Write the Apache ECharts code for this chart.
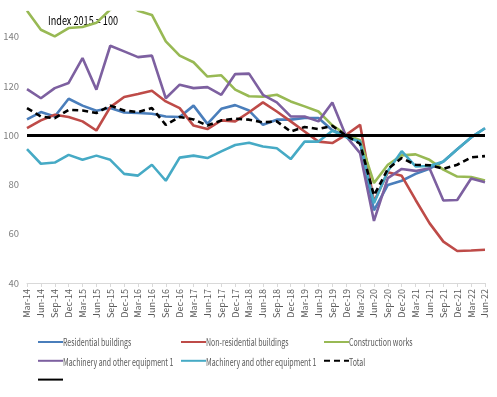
<!DOCTYPE html>
<html>
<head>
<meta charset="utf-8">
<script src="https://cdn.jsdelivr.net/npm/echarts@6/dist/echarts.min.js"></script>
<style>
html, body { margin: 0; padding: 0; background: #fff; }
#chart { width: 497px; height: 397px; }
</style>
</head>
<body>
<div id="chart"></div>
<script>
// quarters Mar-14 .. Jun-22
var quarters = ['Mar-14', 'Jun-14', 'Sep-14', 'Dec-14', 'Mar-15', 'Jun-15', 'Sep-15', 'Dec-15',
    'Mar-16', 'Jun-16', 'Sep-16', 'Dec-16', 'Mar-17', 'Jun-17', 'Sep-17', 'Dec-17',
    'Mar-18', 'Jun-18', 'Sep-18', 'Dec-18', 'Mar-19', 'Jun-19', 'Sep-19', 'Dec-19',
    'Mar-20', 'Jun-20', 'Sep-20', 'Dec-20', 'Mar-21', 'Jun-21', 'Sep-21', 'Dec-21',
    'Mar-22', 'Jun-22'];

var residential = [106.4, 109.4, 107.6, 114.8, 112.0, 109.9, 111.0, 109.2, 109.0, 108.7, 107.6, 107.4,
    112.0, 104.6, 110.7, 112.2, 110.0, 104.2, 106.3, 106.3, 107.0, 107.0, 102.0, 99.8,
    97.0, 69.5, 79.8, 81.5, 84.3, 86.4, 89.3, 94.3, 99.1, 102.8];
var nonResidential = [102.9, 106.0, 108.3, 107.4, 105.6, 101.9, 111.4, 115.5, 116.7, 118.0, 113.7, 111.0,
    103.9, 102.5, 106.0, 105.6, 109.3, 113.3, 109.6, 105.6, 101.5, 97.4, 96.8, 100.2,
    104.2, 73.0, 85.0, 83.5, 73.7, 64.3, 56.8, 53.0, 53.2, 53.5];
var construction = [150.5, 142.8, 140.1, 143.5, 143.9, 145.6, 151.0, 154.0, 150.5, 148.8, 138.1, 132.3,
    129.6, 123.8, 124.3, 118.5, 115.8, 115.6, 116.4, 113.7, 111.7, 109.6, 104.0, 100.2,
    98.0, 80.6, 88.0, 91.8, 92.2, 90.0, 86.0, 83.2, 83.0, 81.6];
var machinery1 = [118.7, 115.0, 119.1, 121.2, 131.3, 118.5, 136.3, 134.0, 131.7, 132.3, 115.0, 120.5,
    119.1, 119.5, 116.4, 124.8, 125.0, 116.4, 113.3, 107.6, 107.6, 105.6, 113.3, 99.5,
    92.7, 65.2, 82.6, 86.3, 85.5, 86.6, 73.5, 73.7, 82.4, 80.9];
var machinery2 = [94.3, 88.4, 88.9, 92.0, 90.0, 91.7, 90.0, 84.3, 83.6, 88.0, 81.5, 90.9,
    91.7, 90.7, 93.4, 96.0, 96.9, 95.4, 94.7, 90.3, 97.4, 97.4, 101.8, 99.2,
    97.4, 72.4, 85.5, 93.5, 87.3, 87.5, 89.3, 94.3, 99.1, 102.8];
var total = [111.0, 107.6, 106.9, 110.3, 110.0, 109.0, 112.0, 110.0, 109.4, 111.0, 104.2, 107.4,
    106.4, 103.9, 106.0, 106.7, 106.3, 105.2, 105.6, 101.5, 103.3, 102.5, 103.8, 99.8,
    96.5, 75.5, 86.3, 90.7, 88.0, 87.8, 86.4, 88.0, 91.0, 91.5];
var baseLevel = 100;
var yTicks = [40, 60, 80, 100, 120, 140];

window.onload = function() {
    var chart = echarts.init(document.getElementById('chart'));
    var font = '"Noto Sans CJK SC", Roboto, sans-serif';

    // legend columns: icons from the legend component, labels as narrow text
    var legendCols = [
        { left: 37, names: ['Residential buildings', 'Machinery and other equipment 1', 'ref'] },
        { left: 180, names: ['Non-residential buildings', 'Machinery and other equipment 1 (2)'] },
        { left: 323, names: ['Construction works', 'Total'] }
    ];
    var legendTop = 336;
    var rowStep = 20;

    function labelOf(name) {
        if (name === 'ref') return '';
        return name.replace(' (2)', '');
    }

    var legends = [];
    var graphics = [{
        type: 'text',
        x: 48,
        y: 20,
        scaleX: 0.76,
        style: { text: 'Index 2015 = 100', font: '12px ' + font, fill: '#000', verticalAlign: 'middle' }
    }];
    legendCols.forEach(function(col) {
        legends.push({
            orient: 'vertical',
            left: col.left,
            top: legendTop,
            padding: 0,
            itemWidth: 25,
            itemHeight: 12,
            itemGap: rowStep - 12,
            data: col.names,
            formatter: function() { return ''; },
            selectedMode: false,
            itemStyle: { color: 'rgba(0,0,0,0)', borderWidth: 0, opacity: 0 }
        });
        col.names.forEach(function(name, i) {
            graphics.push({
                type: 'text',
                x: col.left + 26,
                y: legendTop + 6 + i * rowStep,
                scaleX: 0.7,
                style: { text: labelOf(name), font: '10px ' + font, fill: '#595959', verticalAlign: 'middle' }
            });
        });
    });

    function line(name, data, color, dashed) {
        return {
            name: name,
            type: 'line',
            data: data,
            symbol: 'none',
            color: color,
            lineStyle: { color: color, width: 2.6, type: dashed ? [6, 4] : 'solid' }
        };
    }

    var option = {
        animation: false,
        legend: legends,
        graphic: graphics,
        grid: { left: 27, right: 12, top: 12, bottom: 114 },
        xAxis: {
            type: 'category',
            data: quarters,
            boundaryGap: false,
            axisLine: { lineStyle: { color: '#d9d9d9', width: 1 } },
            axisTick: { show: true, length: 4, alignWithLabel: true, lineStyle: { color: '#d9d9d9' } },
            axisLabel: { interval: 0, rotate: 90, margin: 6, fontFamily: font, fontSize: 9, color: '#595959' },
            splitLine: { show: false }
        },
        yAxis: {
            type: 'value',
            min: yTicks[0],
            max: 150,
            interval: 20,
            axisLine: { show: false },
            axisTick: { show: false },
            splitLine: { show: false },
            axisLabel: {
                margin: 8,
                fontFamily: font,
                fontSize: 9.5,
                color: '#7f7f7f',
                formatter: function(v) { return yTicks.indexOf(v) >= 0 ? v : ''; }
            }
        },
        series: [
            line('Residential buildings', residential, '#4a7ebb'),
            line('Non-residential buildings', nonResidential, '#be4b48'),
            line('Construction works', construction, '#98b954'),
            line('Machinery and other equipment 1', machinery1, '#7d60a0'),
            line('Machinery and other equipment 1 (2)', machinery2, '#46aac5'),
            line('Total', total, '#000000', true),
            {
                name: 'ref',
                type: 'line',
                data: [],
                symbol: 'none',
                color: '#000000',
                lineStyle: { color: '#000000', width: 3 },
                markLine: {
                    silent: true,
                    symbol: 'none',
                    label: { show: false },
                    lineStyle: { color: '#000000', width: 3, type: 'solid' },
                    data: [{ yAxis: baseLevel }]
                }
            }
        ]
    };

    chart.setOption(option);
};
</script>
</body>
</html>
